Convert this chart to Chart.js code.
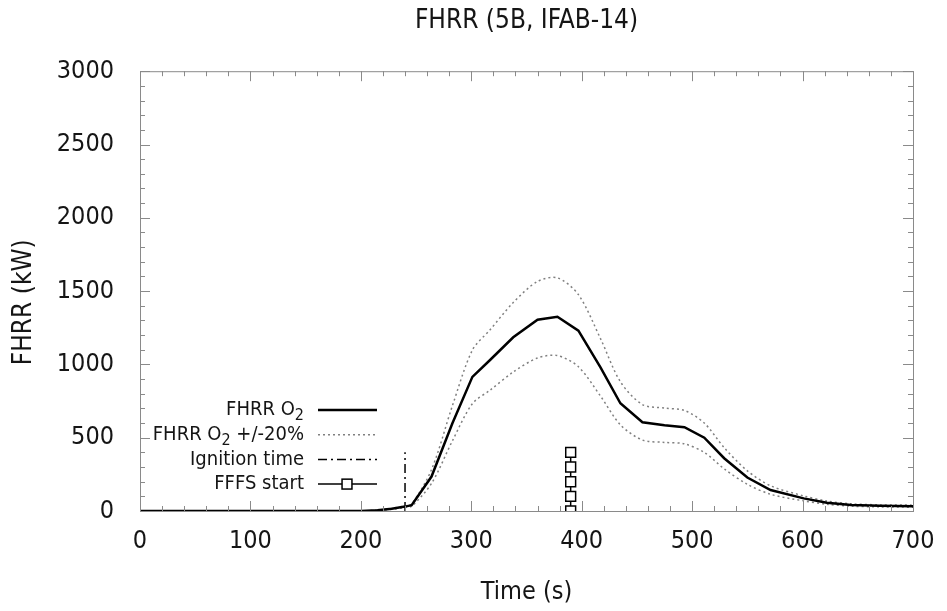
<!DOCTYPE html>
<html>
<head>
<meta charset="utf-8">
<script src="https://cdn.jsdelivr.net/npm/chart.js@4.4.1/dist/chart.umd.min.js"></script>
<style>
html, body { margin: 0; padding: 0; background: #fff; }
</style>
</head>
<body>
<canvas id="fhrrPlot" width="947" height="611"></canvas>
<script>
'use strict';

// values
const timeSec = [0, 200, 215, 228, 240, 246, 264, 283, 301, 317, 338, 360, 378, 397, 417, 435, 455, 475, 493, 511, 529, 550, 571, 601, 622, 644, 670, 700];
const fhrrO2 = [0, 0, 5, 15, 30, 40, 235, 600, 915, 1030, 1185, 1305, 1325, 1230, 980, 735, 605, 585, 572, 500, 360, 228, 143, 86, 57, 41, 35, 33];
const fhrrUpper = [0, 0, 6, 18, 36, 48, 282, 720, 1098, 1236, 1422, 1566, 1590, 1476, 1176, 882, 726, 702, 686, 600, 432, 274, 172, 103, 68, 49, 42, 40];
const fhrrLower = [0, 0, 4, 12, 24, 32, 188, 480, 732, 824, 948, 1044, 1060, 984, 784, 588, 484, 468, 458, 400, 288, 182, 114, 69, 46, 33, 28, 26];

const ignitionTime = [240, 240];
const ignitionMark = [0, 400];

const fffsTime = [390, 390, 390, 390, 390];
const fffsMark = [0, 100, 200, 300, 400];

const xMin = 0, xMax = 700, xStep = 100, xMinor = 20;
const yMin = 0, yMax = 3000, yStep = 500, yMinor = 100;

const FONT = "'DejaVu Sans Condensed', 'DejaVu Sans', sans-serif";
const TEXT = "#151515";

const toPoints = (xs, ys) => xs.map((x, i) => ({ x: x, y: ys[i] }));

// frame box + inward ticks on all four sides
const framePlugin = {
    id: "frame",
    afterDraw(chart) {
        const { ctx, chartArea: a, scales: { x, y } } = chart;
        ctx.save();
        ctx.strokeStyle = "#8a8a8a";
        ctx.lineWidth = 1;
        ctx.strokeRect(a.left + 0.5, a.top + 0.5, a.right - a.left, a.bottom - a.top);
        ctx.beginPath();
        for (let v = xMin; v <= xMax; v += xMinor) {
            const px = Math.round(x.getPixelForValue(v)) + 0.5;
            const len = v % xStep === 0 ? 10 : 5;
            ctx.moveTo(px, a.bottom); ctx.lineTo(px, a.bottom - len);
            ctx.moveTo(px, a.top); ctx.lineTo(px, a.top + len);
        }
        for (let v = yMin; v <= yMax; v += yMinor) {
            const py = Math.round(y.getPixelForValue(v)) + 0.5;
            const len = v % yStep === 0 ? 10 : 5;
            ctx.moveTo(a.left, py); ctx.lineTo(a.left + len, py);
            ctx.moveTo(a.right, py); ctx.lineTo(a.right - len, py);
        }
        ctx.stroke();
        ctx.restore();
    }
};

// label with a subscript "2" for O2, right-aligned at xRight
function drawSubLabel(ctx, text, xRight, yMid) {
    const parts = text.split("\u2082");
    const big = "20px " + FONT, small = "16px " + FONT;
    let w = 0;
    parts.forEach((p, i) => {
        ctx.font = big; w += ctx.measureText(p).width;
        if (i < parts.length - 1) { ctx.font = small; w += ctx.measureText("2").width; }
    });
    let cx = xRight - w;
    ctx.textBaseline = "middle";
    ctx.textAlign = "left";
    parts.forEach((p, i) => {
        ctx.font = big; ctx.fillText(p, cx, yMid); cx += ctx.measureText(p).width;
        if (i < parts.length - 1) {
            ctx.font = small; ctx.fillText("2", cx, yMid + 6); cx += ctx.measureText("2").width;
        }
    });
}

// gnuplot-like key: label right-aligned, sample to the right
const keyPlugin = {
    id: "key",
    afterDraw(chart) {
        const { ctx } = chart;
        const rows = chart.data.datasets.filter(d => d.inKey);
        ctx.save();
        rows.forEach((d, i) => {
            const yMid = 410 + i * 24.7;
            ctx.fillStyle = TEXT;
            drawSubLabel(ctx, d.label, 304, yMid);
            ctx.beginPath();
            ctx.setLineDash(d.borderDash || []);
            ctx.strokeStyle = d.borderColor;
            ctx.lineWidth = d.borderWidth;
            ctx.moveTo(318, yMid); ctx.lineTo(377, yMid);
            ctx.stroke();
            ctx.setLineDash([]);
            if (d.pointRadius > 0) {
                const h = d.pointRadius / Math.SQRT2;
                ctx.fillStyle = "#fff";
                ctx.fillRect(347 - h, yMid - h, 2 * h, 2 * h);
                ctx.lineWidth = d.pointBorderWidth;
                ctx.strokeRect(347 - h, yMid - h, 2 * h, 2 * h);
            }
        });
        ctx.restore();
    }
};

const ctx = document.getElementById("fhrrPlot").getContext("2d");

const fhrrPlot = new Chart(ctx, {
    type: "line",
    data: {
        datasets: [
            {
                label: "FHRR O\u2082",
                inKey: true,
                data: toPoints(timeSec, fhrrO2),
                borderColor: "#000",
                borderWidth: 2.5,
                pointRadius: 0,
                tension: 0,
            },
            {
                label: "FHRR O\u2082 +/-20%",
                inKey: true,
                data: toPoints(timeSec, fhrrUpper),
                borderColor: "#808080",
                borderWidth: 1.5,
                borderDash: [2, 3],
                pointRadius: 0,
                tension: 0.3,
            },
            {
                label: "",
                inKey: false,
                data: toPoints(timeSec, fhrrLower),
                borderColor: "#808080",
                borderWidth: 1.5,
                borderDash: [2, 3],
                pointRadius: 0,
                tension: 0.3,
            },
            {
                label: "Ignition time",
                inKey: true,
                data: toPoints(ignitionTime, ignitionMark),
                borderColor: "#000",
                borderWidth: 1.5,
                borderDash: [9, 4, 2, 4],
                pointRadius: 0,
            },
            {
                label: "FFFS start",
                inKey: true,
                data: toPoints(fffsTime, fffsMark),
                borderColor: "#000",
                borderWidth: 1.5,
                pointStyle: "rect",
                pointRadius: 7,
                pointBorderWidth: 1.5,
                pointBackgroundColor: "#fff",
                pointBorderColor: "#000",
            },
        ],
    },
    options: {
        responsive: false,
        animation: false,
        events: [],
        layout: { padding: { left: 0, right: 34, top: 0, bottom: 0 } },
        scales: {
            x: {
                type: "linear",
                min: xMin,
                max: xMax,
                grid: { display: false },
                border: { display: false },
                ticks: {
                    stepSize: xStep, color: TEXT, font: { family: FONT, size: 25 }, padding: 7, maxRotation: 0,
                    callback: (v) => String(v),
                },
                title: { display: true, text: "Time (s)", color: TEXT, font: { family: FONT, size: 25 }, padding: { top: 0, bottom: 4 } },
                afterFit: (scale) => { scale.height = 100; },
            },
            y: {
                type: "linear",
                min: yMin,
                max: yMax,
                grid: { display: false },
                border: { display: false },
                ticks: {
                    stepSize: yStep, color: TEXT, font: { family: FONT, size: 25 }, padding: 18,
                    callback: (v) => String(v),
                },
                title: { display: true, text: "FHRR (kW)   ", color: TEXT, font: { family: FONT, size: 26 }, padding: { top: 9, bottom: 0 } },
                afterFit: (scale) => { scale.width = 140; },
            },
        },
        plugins: {
            legend: { display: false },
            tooltip: { enabled: false },
            title: {
                display: true,
                fullSize: false,
                text: "FHRR (5B, IFAB-14)",
                color: TEXT,
                font: { family: FONT, size: 26, weight: "normal" },
                padding: { top: 6, bottom: 34 },
            },
        },
    },
    plugins: [framePlugin, keyPlugin],
});
</script>
</body>
</html>
